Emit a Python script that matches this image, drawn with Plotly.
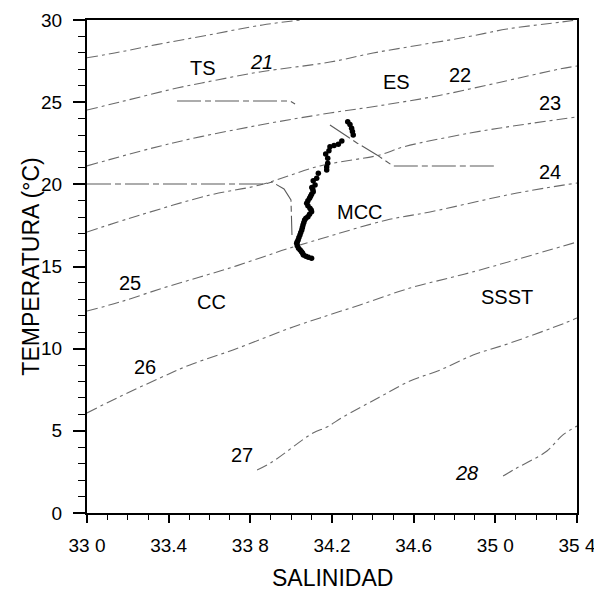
import plotly.graph_objects as go

# ---- isopycnal (sigma-t) curves: salinity / temperature pairs
sig21_s = [33.0, 33.16, 33.34, 33.60, 33.86, 34.05]
sig21_t = [27.7, 28.05, 28.5, 29.1, 29.7, 30.0]
sig22_s = [33.0, 33.162, 33.441, 33.637, 33.847, 34.190, 34.401, 34.631, 34.861, 35.057, 35.326, 35.4]
sig22_t = [24.52, 25.01, 25.86, 26.35, 26.84, 27.44, 27.99, 28.48, 28.97, 29.45, 29.88, 30.0]
sig23_s = [33.0, 33.421, 33.847, 34.190, 34.425, 34.714, 35.008, 35.317, 35.4]
sig23_t = [21.12, 22.52, 23.61, 24.34, 24.77, 25.38, 26.17, 27.02, 27.20]
sig24_s = [33.0, 33.260, 33.602, 33.847, 34.141, 34.435, 34.548, 34.876, 35.121, 35.4]
sig24_t = [17.10, 18.13, 19.35, 19.96, 21.12, 21.79, 22.27, 23.12, 23.61, 24.10]
sig25_s = [33.0, 33.162, 33.372, 33.553, 33.715, 33.862, 33.980, 34.141, 34.469, 34.680, 35.106, 35.4]
sig25_t = [12.29, 12.84, 13.69, 14.36, 14.97, 15.58, 16.07, 16.67, 17.83, 18.32, 19.47, 20.08]
sig26_s = [33.0, 33.147, 33.358, 33.504, 33.715, 34.009, 34.141, 34.337, 34.582, 34.793, 34.925, 35.4]
sig26_t = [6.09, 7.00, 8.22, 9.01, 9.92, 11.32, 11.87, 12.66, 13.69, 14.36, 14.79, 16.49]
sig27_s = [33.833, 33.906, 34.107, 34.175, 34.254, 34.425, 34.582, 34.729, 34.891, 35.072, 35.341, 35.4]
sig27_t = [2.62, 3.10, 4.87, 5.23, 5.84, 7.00, 8.03, 8.70, 9.61, 10.34, 11.56, 11.87]
sig28_s = [35.038, 35.096, 35.170, 35.253, 35.331, 35.4]
sig28_t = [2.25, 2.68, 3.16, 3.77, 4.75, 5.29]

# ---- water-mass boundary lines
bnd1_s = [33.0, 33.872, 33.906, 33.965, 33.999, 34.004]
bnd1_t = [20.02, 20.02, 20.14, 19.72, 19.05, 16.92]
bnd2_s = [33.441, 33.994, 34.019]
bnd2_t = [25.07, 25.07, 24.89]
bnd3_s = [34.190, 34.322, 34.420, 34.499, 35.008]
bnd3_t = [23.61, 22.52, 21.79, 21.12, 21.12]

# ---- CTD profile (salinity, temperature)
prof_s = [34.277, 34.288, 34.296, 34.300, 34.304, 34.248, 34.231, 34.210, 34.190, 34.185,
          34.169, 34.179, 34.179, 34.174, 34.174, 34.133, 34.125, 34.108, 34.117,
          34.101, 34.106, 34.108, 34.100, 34.095, 34.090, 34.082, 34.076, 34.082, 34.092,
          34.098, 34.100, 34.090, 34.082, 34.072, 34.066, 34.062, 34.058, 34.055, 34.052,
          34.047, 34.043, 34.038, 34.034, 34.030, 34.027, 34.030, 34.036, 34.044, 34.051,
          34.056, 34.060, 34.072, 34.084, 34.100]
prof_t = [23.81, 23.64, 23.41, 23.22, 23.00, 22.64, 22.44, 22.36, 22.29, 22.05,
          21.85, 21.58, 21.28, 21.06, 20.87, 20.67, 20.37, 20.22, 19.96,
          19.80, 19.68, 19.55, 19.40, 19.28, 19.15, 19.00, 18.85, 18.70, 18.54,
          18.44, 18.33, 18.18, 18.03, 17.93, 17.83, 17.68, 17.53, 17.38, 17.22,
          17.07, 16.92, 16.76, 16.61, 16.50, 16.41, 16.26, 16.11, 16.00, 15.90,
          15.80, 15.70, 15.62, 15.56, 15.50]

# ---- text labels
mass_names = ["TS", "ES", "MCC", "CC", "SSST"]
mass_s = [33.568, 34.518, 34.337, 33.612, 35.057]
mass_t = [27.08, 26.23, 18.32, 12.84, 13.14]
sig_labels = ["21", "22", "23", "24", "25", "26", "27", "28"]
sig_lab_s = [33.857, 34.827, 35.268, 35.268, 33.211, 33.284, 33.759, 34.861]
sig_lab_t = [27.44, 26.65, 24.95, 20.75, 14.0, 8.88, 3.53, 2.43]
sig_lab_italic = [True, False, False, False, False, False, False, True]

# ---- axis ticks
x_tickvals = [33.0, 33.4, 33.8, 34.2, 34.6, 35.0, 35.4]
x_ticktext = ["33 0", "33.4", "33 8", "34.2", "34.6", "35 0", "35 4"]
y_tickvals = [0, 5, 10, 15, 20, 25, 30]

FONT = "Liberation Sans, Arial, sans-serif"
ISO_COLOR = "#6a6a6a"
ISO_DASH = "11px,4px,3px,4px"

fig = go.Figure()
for s, t in [(sig21_s, sig21_t), (sig22_s, sig22_t), (sig23_s, sig23_t), (sig24_s, sig24_t),
             (sig25_s, sig25_t), (sig26_s, sig26_t), (sig27_s, sig27_t), (sig28_s, sig28_t)]:
    fig.add_trace(go.Scatter(x=s, y=t, mode="lines", hoverinfo="skip",
                             line=dict(color=ISO_COLOR, width=1.1, dash=ISO_DASH, shape="spline"),
                             showlegend=False))

for s, t in [(bnd1_s, bnd1_t), (bnd2_s, bnd2_t), (bnd3_s, bnd3_t)]:
    fig.add_trace(go.Scatter(x=s, y=t, mode="lines", hoverinfo="skip",
                             line=dict(color="#5a5a5a", width=1.1, dash="24px,4px,6px,4px"),
                             showlegend=False))

fig.add_trace(go.Scatter(x=prof_s, y=prof_t, mode="markers",
                         marker=dict(color="black", size=5.5), showlegend=False))

for name, s, t in zip(mass_names, mass_s, mass_t):
    fig.add_annotation(x=s, y=t, text=name, showarrow=False,
                       font=dict(family=FONT, size=20, color="black"))
for lab, s, t, it in zip(sig_labels, sig_lab_s, sig_lab_t, sig_lab_italic):
    fig.add_annotation(x=s, y=t, text=("<i>%s</i>" % lab) if it else lab, showarrow=False,
                       font=dict(family=FONT, size=20, color="black"))

# axis titles as paper-positioned annotations
fig.add_annotation(xref="paper", yref="paper", x=0.5, y=-0.131, text="SALINIDAD",
                   showarrow=False, xanchor="center", yanchor="middle",
                   font=dict(family=FONT, size=23, color="black"))
fig.add_annotation(xref="paper", yref="paper", x=-0.116, y=0.5, text="TEMPERATURA (°C)",
                   showarrow=False, xanchor="center", yanchor="middle", textangle=-90,
                   font=dict(family=FONT, size=23, color="black"))

fig.update_xaxes(range=[33.0, 35.4], tickvals=x_tickvals, ticktext=x_ticktext,
                 ticks="outside", ticklen=8, tickwidth=1.5, tickcolor="black",
                 minor=dict(dtick=0.1, tick0=33.0, ticks="outside", ticklen=5,
                            tickwidth=1.2, tickcolor="black", showgrid=False),
                 showline=True, linewidth=2, linecolor="black", mirror=True,
                 showgrid=False, zeroline=False, ticklabelstandoff=6, automargin=False,
                 tickfont=dict(family=FONT, size=19, color="black"))
fig.update_yaxes(range=[0, 30], tickvals=y_tickvals,
                 ticks="outside", ticklen=12, tickwidth=1.5, tickcolor="black",
                 minor=dict(dtick=1, tick0=0, ticks="outside", ticklen=7,
                            tickwidth=1.2, tickcolor="black", showgrid=False),
                 showline=True, linewidth=2, linecolor="black", mirror=True,
                 showgrid=False, zeroline=False, ticklabelstandoff=7, automargin=False,
                 tickfont=dict(family=FONT, size=19, color="black"))

# the page adds an 8 px body margin, so the figure is sized to sit inside the window
fig.update_layout(width=594, height=583, plot_bgcolor="white", paper_bgcolor="white",
                  margin=dict(l=79, r=25, t=12, b=78, autoexpand=False), showlegend=False)

fig.write_html("out.html")
